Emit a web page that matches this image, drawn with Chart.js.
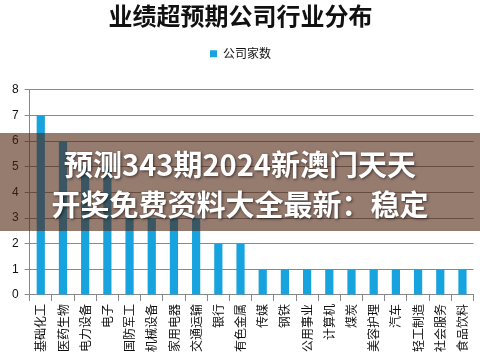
<!DOCTYPE html>
<html>
<head>
<meta charset="utf-8">
<script src="https://cdn.jsdelivr.net/npm/chart.js@4/dist/chart.umd.min.js"></script>
<style>
  body { margin: 0; background: #fff; }
  #wrap { position: relative; width: 480px; height: 364px; }
  #band {
    position: absolute; left: 0; top: 133px; width: 480px; height: 98px;
    background: rgba(80, 35, 15, 0.6);
  }
  #caption {
    position: absolute; left: 0; top: 143px; width: 480px;
    text-align: center; color: #fff;
    font: bold 29px "Noto Sans CJK SC", sans-serif; line-height: 40px;
    text-shadow: 1px 1px 3px rgba(0,0,0,0.6);
  }
</style>
</head>
<body>
<div id="wrap">
  <canvas id="industryChart" width="480" height="364"></canvas>
  <div id="band"></div>
  <div id="caption">预测343期2024新澳门天天<br>开奖免费资料大全最新：稳定</div>
</div>
<script>
// industries and number of companies beating expectations
const industries = ['基础化工', '医药生物', '电力设备', '电子', '国防军工', '机械设备', '家用电器', '交通运输',
  '银行', '有色金属', '传媒', '钢铁', '公用事业', '计算机', '煤炭', '美容护理', '汽车', '轻工制造', '社会服务', '食品饮料'];
const companyCounts = [7, 6, 5, 5, 3, 3, 3, 3, 2, 2, 1, 1, 1, 1, 1, 1, 1, 1, 1, 1];
const yTicks = [0, 1, 2, 3, 4, 5, 6, 7, 8];

// extra room under the legend
const legendGap = {
    id: 'legendGap',
    beforeInit(chart) {
        const fit = chart.legend.fit;
        chart.legend.fit = function() {
            fit.call(this);
            this.height += 20;
        };
    }
};

const ctx = document.getElementById('industryChart').getContext('2d');
const chart = new Chart(ctx, {
    type: 'bar',
    data: {
        labels: industries,
        datasets: [{
            label: '公司家数',
            data: companyCounts,
            backgroundColor: '#17a3de'
        }]
    },
    options: {
        responsive: false,
        animation: false,
        barPercentage: 0.37,
        categoryPercentage: 1.0,
        layout: { padding: { left: 6, right: 5, bottom: 9 } },
        plugins: {
            title: {
                display: true,
                text: '业绩超预期公司行业分布',
                color: '#111',
                font: { family: 'Noto Sans CJK SC', size: 24, weight: 'bold' },
                padding: { top: 1, bottom: 8 }
            },
            legend: {
                labels: {
                    boxWidth: 7,
                    boxHeight: 7,
                    color: '#111',
                    font: { family: 'Noto Sans CJK SC', size: 12 }
                }
            },
            tooltip: { enabled: false }
        },
        scales: {
            x: {
                grid: { drawOnChartArea: false, offset: true, tickLength: 6, color: '#888' },
                border: { color: '#888' },
                ticks: {
                    autoSkip: false,
                    minRotation: 90,
                    maxRotation: 90,
                    color: '#111',
                    font: { family: 'Noto Sans CJK SC', size: 12 }
                }
            },
            y: {
                min: 0,
                max: 8,
                afterBuildTicks: axis => { axis.ticks = yTicks.map(v => ({ value: v })); },
                grid: { color: '#8a8a8a', tickLength: 5 },
                border: { color: '#888' },
                ticks: {
                    color: '#111',
                    padding: 6,
                    font: { family: 'Liberation Sans', size: 12 }
                }
            }
        }
    },
    plugins: [legendGap]
});
</script>
</body>
</html>
